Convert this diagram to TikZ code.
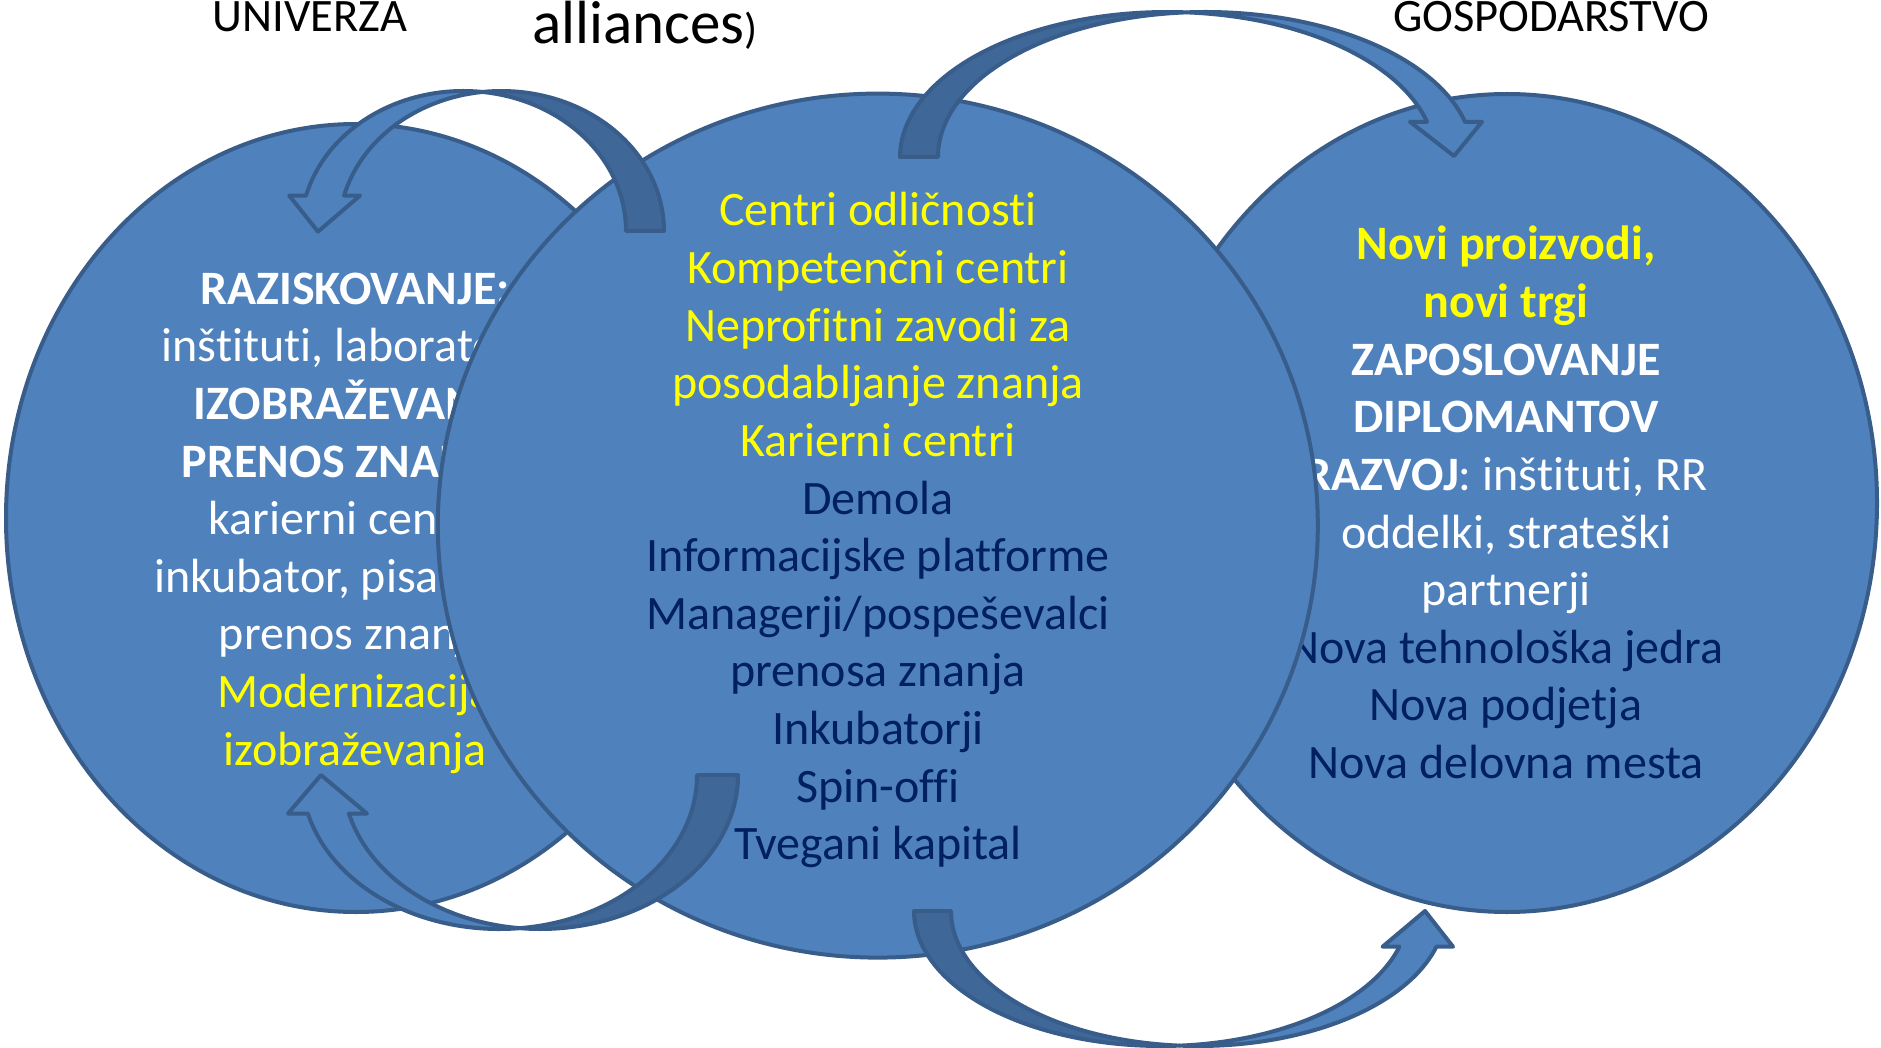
\documentclass[tikz,border=0pt]{standalone}
\usepackage{fontspec}
\setmainfont{Carlito}[Ligatures=NoCommon]
\usetikzlibrary{shapes.geometric}
\definecolor{cfill}{HTML}{4F81BD}
\definecolor{cline}{HTML}{385D8A}
\definecolor{cdark}{HTML}{3F6797}
\definecolor{cyel}{HTML}{FFFF00}
\definecolor{cnavy}{HTML}{002060}
\tikzset{
  circ/.style={ellipse, fill=cfill, draw=cline, line width=4pt, inner sep=0pt},
  ln/.style={anchor=base, inner sep=0pt, font=\fontsize{48}{57.6}\selectfont},
  lightpart/.style={fill=cfill, draw=cline, line width=4pt, line join=round},
  darkpart/.style={fill=cdark, draw=cline, line width=4pt, line join=round},
  head/.style={anchor=base, inner sep=0pt, font=\fontsize{46.5}{56}\selectfont, text=black}
}
\begin{document}
\begin{tikzpicture}[x=1pt,y=-1pt]
\fill[white] (0,0) rectangle (1881,1048);
\useasboundingbox (0,0) rectangle (1881,1048);

% top labels
\node[head] (univ) at (310,31.5) {UNIVERZA};
\node[head] (gosp) at (1551,31.5) {GOSPODARSTVO};
\node[anchor=base west, inner sep=0pt, text=black] (all) at (532,44)
  {{\fontsize{61}{72}\selectfont alliances}{\fontsize{43}{50}\selectfont )}};

% left circle
\node[circ, minimum width=700pt, minimum height=788pt] (L) at (356,518) {};
\node[ln, text=white] (l1) at (355,304.3) {\textbf{RAZISKOVANJE:}};
\node[ln, text=white] (l2) at (355,361.9) {inštituti, laboratoriji};
\node[ln, text=white] (l3) at (355,419.5) {\textbf{IZOBRAŽEVANJE}};
\node[ln, text=white] (l4) at (355,477.1) {\textbf{PRENOS ZNANJA:}};
\node[ln, text=white] (l5) at (355,534.7) {karierni center,};
\node[ln, text=white] (l6) at (355,592.3) {inkubator, pisarna za};
\node[ln, text=white] (l7) at (355,649.9) {prenos znanja};
\node[ln, text=cyel] (l8) at (355,707.5) {Modernizacija};
\node[ln, text=cyel] (l9) at (355,765.1) {izobraževanja};

% right circle
\node[circ, minimum width=740pt, minimum height=818pt] (R) at (1507,503) {};
\node[ln, text=cyel] (r1) at (1506,260) {\textbf{Novi proizvodi,}};
\node[ln, text=cyel] (r2) at (1506,317.6) {\textbf{novi trgi}};
\node[ln, text=white] (r3) at (1506,375.2) {\textbf{ZAPOSLOVANJE}};
\node[ln, text=white] (r4) at (1506,432.8) {\textbf{DIPLOMANTOV}};
\node[ln, text=white] (r5) at (1506,490.4) {\textbf{RAZVOJ}: inštituti, RR};
\node[ln, text=white] (r6) at (1506,548) {oddelki, strateški};
\node[ln, text=white] (r7) at (1506,605.6) {partnerji};
\node[ln, text=cnavy] (r8) at (1506,663.2) {Nova tehnološka jedra};
\node[ln, text=cnavy] (r9) at (1506,720.8) {Nova podjetja};
\node[ln, text=cnavy] (r10) at (1506,778.4) {Nova delovna mesta};

% middle circle
\node[circ, minimum width=880pt, minimum height=864pt] (M) at (877.8,525.6) {};
\node[ln, text=cyel] (m1) at (878,226) {Centri odličnosti};
\node[ln, text=cyel] (m2) at (878,283.6) {Kompetenčni centri};
\node[ln, text=cyel] (m3) at (878,341.2) {Neprofitni zavodi za};
\node[ln, text=cyel] (m4) at (878,398.8) {posodabljanje znanja};
\node[ln, text=cyel] (m5) at (878,456.4) {Karierni centri};
\node[ln, text=cnavy] (m6) at (878,514) {Demola};
\node[ln, text=cnavy] (m7) at (878,571.6) {Informacijske platforme};
\node[ln, text=cnavy] (m8) at (878,629.2) {Managerji/pospeševalci};
\node[ln, text=cnavy] (m9) at (878,686.8) {prenosa znanja};
\node[ln, text=cnavy] (m10) at (878,744.4) {Inkubatorji};
\node[ln, text=cnavy] (m11) at (878,802) {Spin-offi};
\node[ln, text=cnavy] (m12) at (878,859.6) {Tvegani kapital};

% arrow 1: middle -> left (top)
\path[darkpart] (501.4,231) ++(-96.71:162.6 and 140)
  arc[start angle=-96.71, end angle=0, x radius=162.6, y radius=140]
  -- (626,231)
  arc[start angle=0, end angle=-83.29, x radius=162.6, y radius=140] -- cycle;
\path[lightpart] (463.4,231) ++(-165.35:162.6 and 140)
  arc[start angle=-165.35, end angle=-83.29, x radius=162.6, y radius=140]
  arc[start angle=-96.71, end angle=-165.35, x radius=162.6, y radius=140]
  -- (360,195.6) -- (318,231.6) -- (289.2,195.6) -- cycle;

% arrow 2: middle -> right (top)
\path[darkpart] (1167.5,157) ++(-85.93:267.5 and 145)
  arc[start angle=-85.93, end angle=-180, x radius=267.5, y radius=145]
  -- (938,157)
  arc[start angle=-180, end angle=-94.07, x radius=267.5, y radius=145] -- cycle;
\path[lightpart] (1205.5,157) ++(-94.07:267.5 and 145)
  arc[start angle=-94.07, end angle=-14.05, x radius=267.5, y radius=145]
  -- (1482,121.8) -- (1454,156) -- (1410,121.8) -- (1427.0,121.8)
  arc[start angle=-14.05, end angle=-85.93, x radius=267.5, y radius=145] -- cycle;

% arrow 3: middle -> left (bottom)
\path[darkpart] (540.3,775) ++(95.95:197.7 and 154)
  arc[start angle=95.95, end angle=0, x radius=197.7, y radius=154]
  -- (697,775)
  arc[start angle=0, end angle=84.05, x radius=197.7, y radius=154] -- cycle;
\path[lightpart] (499.3,775) ++(165.49:197.7 and 154)
  arc[start angle=165.49, end angle=84.05, x radius=197.7, y radius=154]
  arc[start angle=95.95, end angle=165.49, x radius=197.7, y radius=154]
  -- (367,813.6) -- (321,775) -- (288,813.6) -- cycle;

% arrow 4: middle -> right (bottom)
\path[darkpart] (1161.1,911) ++(85.71:247.1 and 135)
  arc[start angle=85.71, end angle=180, x radius=247.1, y radius=135]
  -- (951,911)
  arc[start angle=180, end angle=94.29, x radius=247.1, y radius=135] -- cycle;
\path[lightpart] (1198.1,911) ++(94.29:247.1 and 135)
  arc[start angle=94.29, end angle=15.33, x radius=247.1, y radius=135]
  -- (1453,946.7) -- (1425,911) -- (1382.6,946.7) -- (1399.4,946.7)
  arc[start angle=15.33, end angle=85.71, x radius=247.1, y radius=135] -- cycle;
\end{tikzpicture}
\end{document}
